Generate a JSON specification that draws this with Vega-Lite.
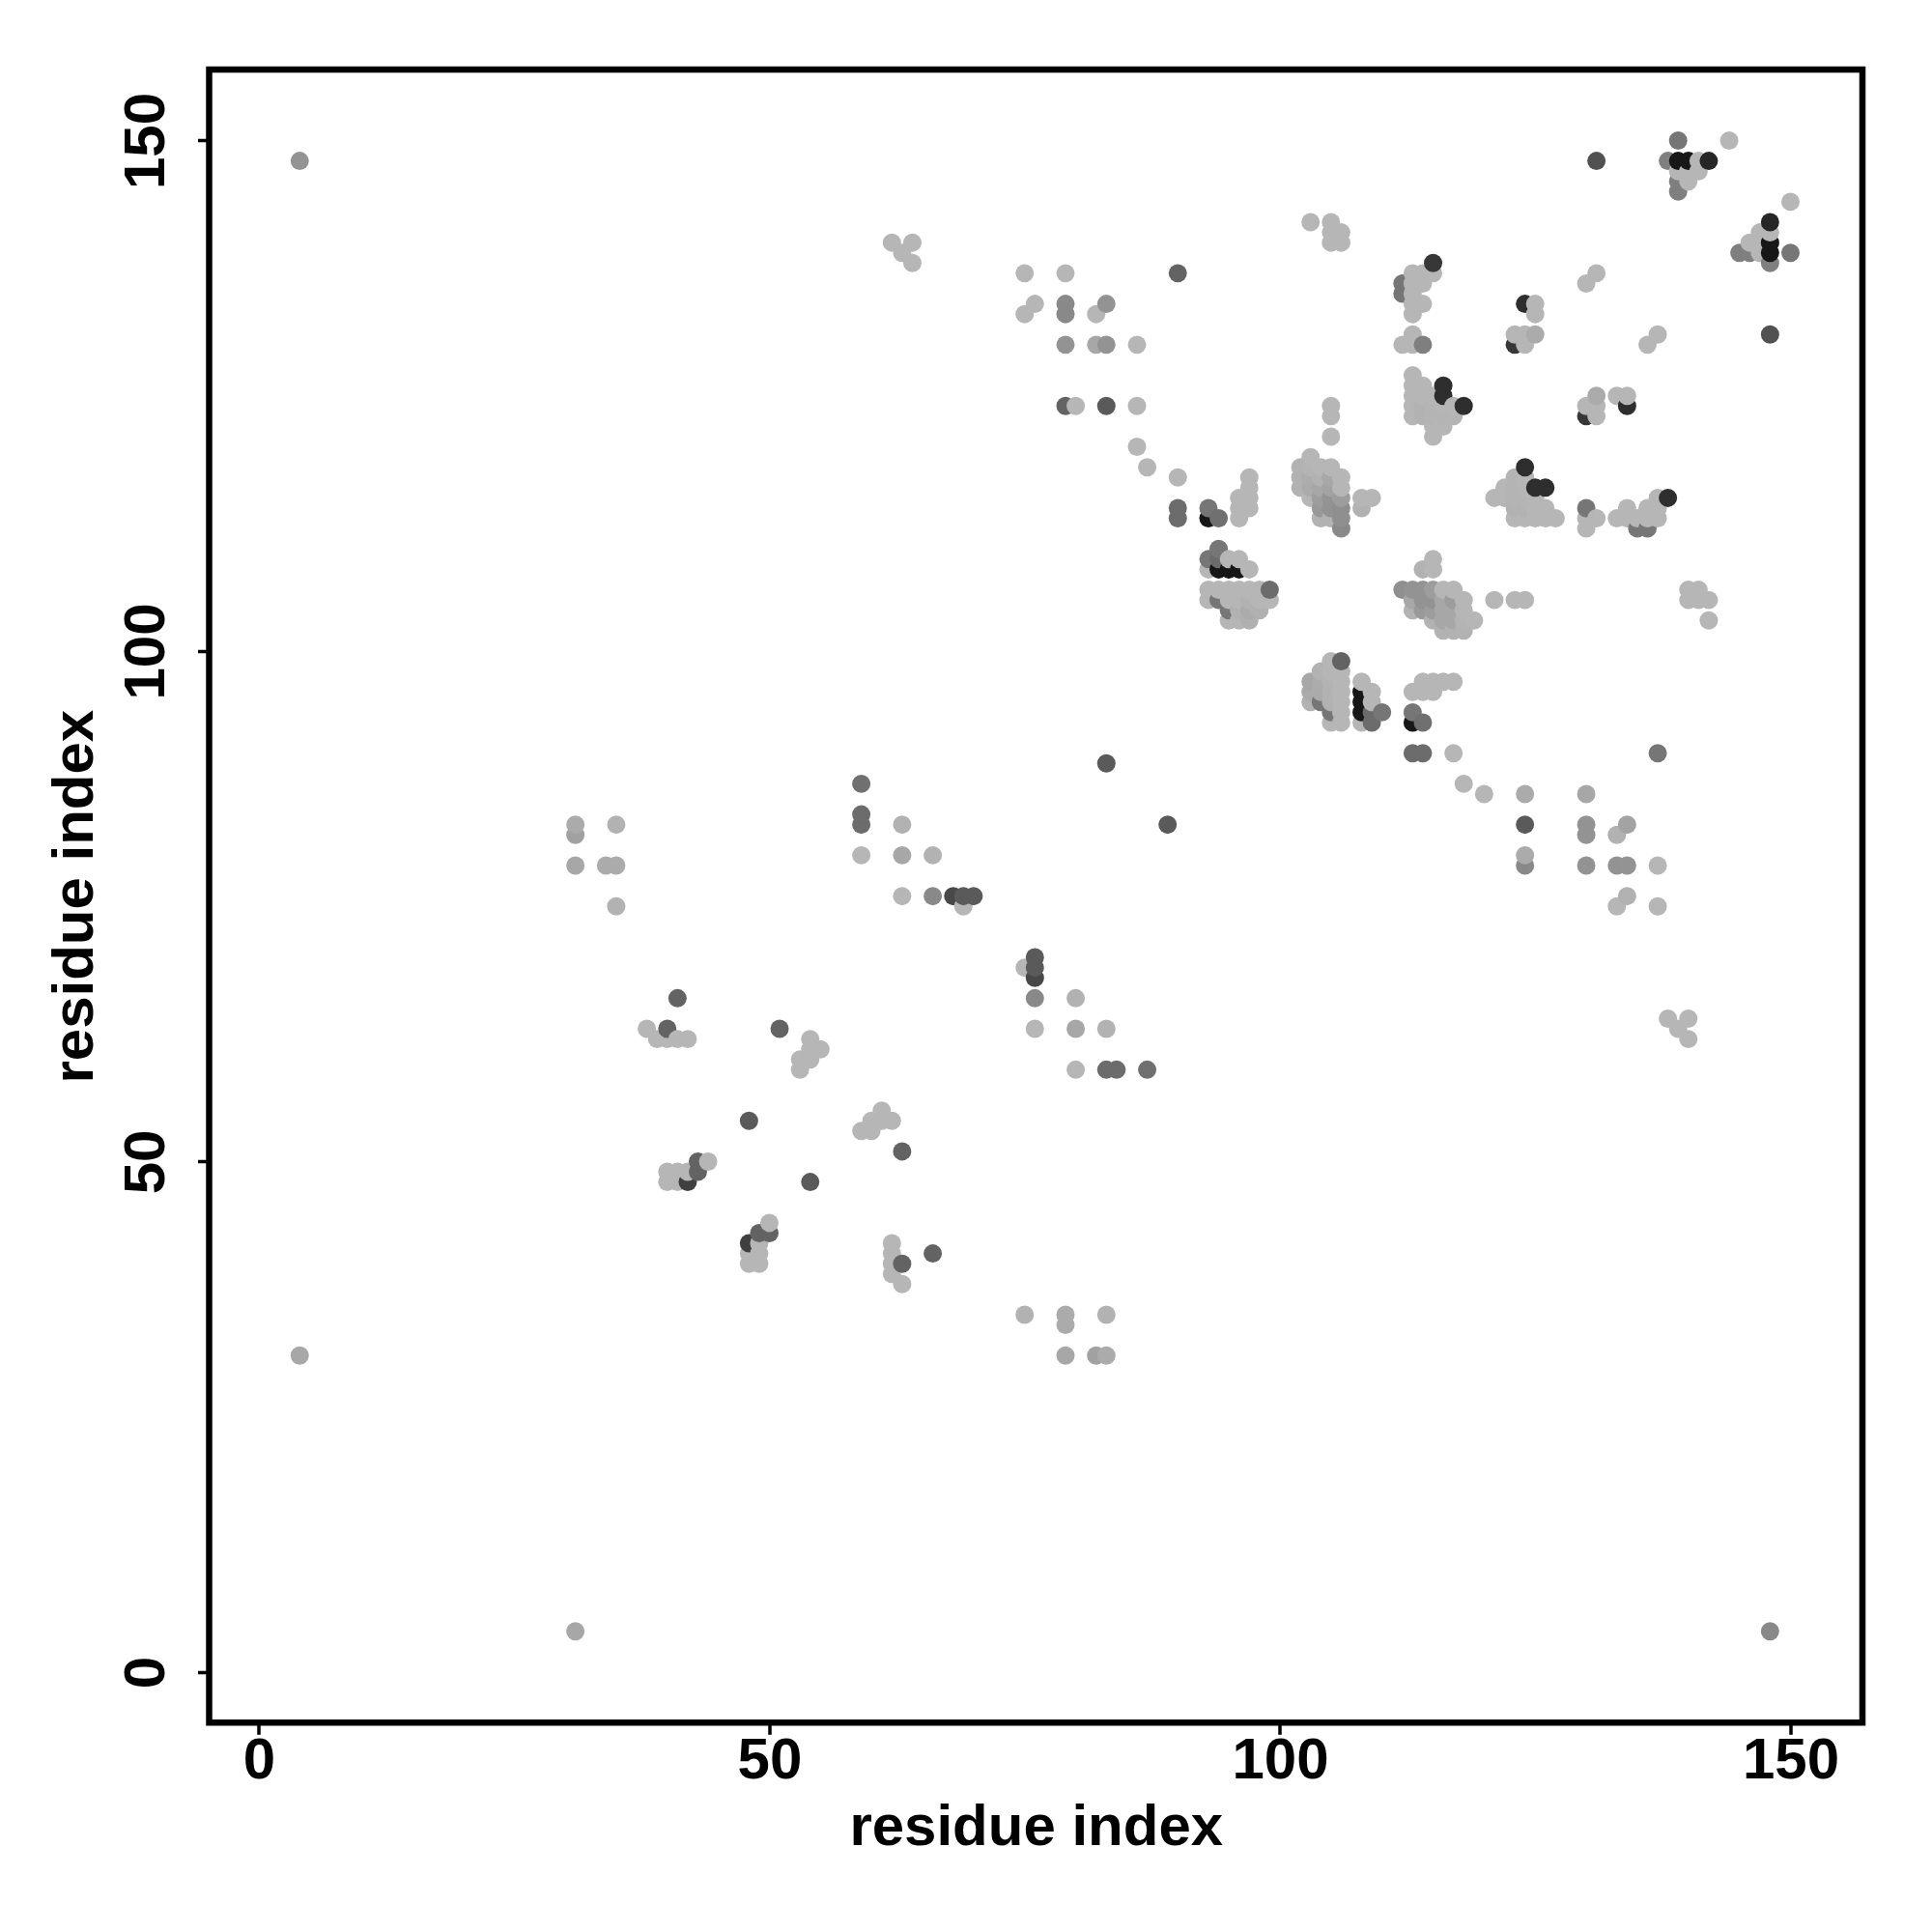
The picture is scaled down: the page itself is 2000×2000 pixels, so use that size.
{"$schema":"https://vega.github.io/schema/vega-lite/v6.json","autosize":{"type":"none"},"padding":{"left":216.5,"top":72,"right":71,"bottom":216},"width":1711.5,"height":1711.3,"background":"white","view":{"stroke":"black","strokeWidth":6.5,"fill":"white"},"data":{"values":[
{"i":4,"j":31,"w":0.1},{"i":4,"j":148,"w":0.2},
{"i":31,"j":4,"w":0.1},{"i":31,"j":79,"w":0.1},{"i":31,"j":82,"w":0.13},{"i":31,"j":83,"w":0.08},
{"i":34,"j":79,"w":0.08},
{"i":35,"j":75,"w":0.05},{"i":35,"j":79,"w":0.08},{"i":35,"j":83,"w":0.05},
{"i":38,"j":63,"w":0.03},{"i":39,"j":62,"w":0.03},
{"i":40,"j":48,"w":0.03},{"i":40,"j":49,"w":0.03},{"i":40,"j":62,"w":0.03},{"i":40,"j":63,"w":0.45},
{"i":41,"j":48,"w":0.03},{"i":41,"j":49,"w":0.03},{"i":41,"j":62,"w":0.03},{"i":41,"j":66,"w":0.45},
{"i":42,"j":48,"w":0.65},{"i":42,"j":49,"w":0.03},{"i":42,"j":62,"w":0.03},
{"i":43,"j":49,"w":0.45},{"i":43,"j":50,"w":0.45},{"i":44,"j":50,"w":0.03},
{"i":48,"j":40,"w":0.03},{"i":48,"j":41,"w":0.03},{"i":48,"j":42,"w":0.65},{"i":48,"j":54,"w":0.5},
{"i":49,"j":40,"w":0.03},{"i":49,"j":41,"w":0.03},{"i":49,"j":42,"w":0.03},{"i":49,"j":43,"w":0.45},
{"i":50,"j":43,"w":0.45},{"i":50,"j":44,"w":0.03},
{"i":51,"j":63,"w":0.45},
{"i":53,"j":59,"w":0.03},{"i":53,"j":60,"w":0.03},
{"i":54,"j":48,"w":0.5},{"i":54,"j":60,"w":0.03},{"i":54,"j":61,"w":0.03},{"i":54,"j":62,"w":0.03},
{"i":55,"j":61,"w":0.03},
{"i":59,"j":53,"w":0.03},{"i":59,"j":80,"w":0.03},{"i":59,"j":83,"w":0.4},{"i":59,"j":84,"w":0.4},{"i":59,"j":87,"w":0.38},
{"i":60,"j":53,"w":0.03},{"i":60,"j":54,"w":0.03},
{"i":61,"j":54,"w":0.03},{"i":61,"j":55,"w":0.03},
{"i":62,"j":39,"w":0.03},{"i":62,"j":40,"w":0.03},{"i":62,"j":41,"w":0.03},{"i":62,"j":42,"w":0.03},{"i":62,"j":54,"w":0.03},{"i":62,"j":140,"w":0.03},
{"i":63,"j":38,"w":0.03},{"i":63,"j":40,"w":0.45},{"i":63,"j":51,"w":0.45},{"i":63,"j":76,"w":0.03},{"i":63,"j":80,"w":0.1},{"i":63,"j":83,"w":0.05},{"i":63,"j":139,"w":0.03},
{"i":64,"j":138,"w":0.03},{"i":64,"j":140,"w":0.03},
{"i":66,"j":41,"w":0.45},{"i":66,"j":76,"w":0.25},{"i":66,"j":80,"w":0.05},
{"i":68,"j":76,"w":0.6},{"i":69,"j":75,"w":0.03},{"i":69,"j":76,"w":0.5},{"i":70,"j":76,"w":0.5},
{"i":75,"j":35,"w":0.05},{"i":75,"j":69,"w":0.03},{"i":75,"j":133,"w":0.03},{"i":75,"j":137,"w":0.03},
{"i":76,"j":63,"w":0.03},{"i":76,"j":66,"w":0.25},{"i":76,"j":68,"w":0.6},{"i":76,"j":69,"w":0.5},{"i":76,"j":70,"w":0.5},{"i":76,"j":134,"w":0.03},
{"i":79,"j":31,"w":0.1},{"i":79,"j":34,"w":0.08},{"i":79,"j":35,"w":0.08},{"i":79,"j":124,"w":0.45},{"i":79,"j":130,"w":0.2},{"i":79,"j":133,"w":0.25},{"i":79,"j":134,"w":0.25},{"i":79,"j":137,"w":0.03},
{"i":80,"j":59,"w":0.03},{"i":80,"j":63,"w":0.1},{"i":80,"j":66,"w":0.05},{"i":80,"j":124,"w":0.03},
{"i":82,"j":31,"w":0.13},{"i":82,"j":130,"w":0.1},{"i":82,"j":133,"w":0.03},
{"i":83,"j":31,"w":0.08},{"i":83,"j":35,"w":0.05},{"i":83,"j":59,"w":0.4},{"i":83,"j":63,"w":0.05},{"i":83,"j":89,"w":0.5},{"i":83,"j":124,"w":0.5},{"i":83,"j":130,"w":0.2},{"i":83,"j":134,"w":0.2},
{"i":84,"j":59,"w":0.4},
{"i":86,"j":120,"w":0.03},{"i":86,"j":124,"w":0.03},{"i":86,"j":130,"w":0.03},
{"i":87,"j":59,"w":0.38},{"i":87,"j":118,"w":0.03},
{"i":89,"j":83,"w":0.5},
{"i":90,"j":113,"w":0.4},{"i":90,"j":114,"w":0.4},{"i":90,"j":117,"w":0.03},{"i":90,"j":137,"w":0.45},
{"i":93,"j":105,"w":0.03},{"i":93,"j":106,"w":0.03},{"i":93,"j":108,"w":0.03},{"i":93,"j":109,"w":0.35},{"i":93,"j":113,"w":0.9},{"i":93,"j":114,"w":0.35},
{"i":94,"j":105,"w":0.35},{"i":94,"j":106,"w":0.03},{"i":94,"j":108,"w":0.9},{"i":94,"j":109,"w":0.4},{"i":94,"j":110,"w":0.35},{"i":94,"j":113,"w":0.38},
{"i":95,"j":103,"w":0.03},{"i":95,"j":104,"w":0.35},{"i":95,"j":105,"w":0.03},{"i":95,"j":106,"w":0.03},{"i":95,"j":108,"w":0.9},{"i":95,"j":109,"w":0.03},
{"i":96,"j":103,"w":0.03},{"i":96,"j":104,"w":0.05},{"i":96,"j":105,"w":0.03},{"i":96,"j":106,"w":0.03},{"i":96,"j":108,"w":0.9},{"i":96,"j":109,"w":0.03},{"i":96,"j":113,"w":0.03},{"i":96,"j":114,"w":0.03},{"i":96,"j":115,"w":0.03},
{"i":97,"j":103,"w":0.06},{"i":97,"j":104,"w":0.08},{"i":97,"j":105,"w":0.05},{"i":97,"j":106,"w":0.03},{"i":97,"j":108,"w":0.03},{"i":97,"j":114,"w":0.03},{"i":97,"j":115,"w":0.03},{"i":97,"j":116,"w":0.03},{"i":97,"j":117,"w":0.03},
{"i":98,"j":104,"w":0.06},{"i":98,"j":105,"w":0.03},{"i":98,"j":106,"w":0.03},
{"i":99,"j":105,"w":0.03},{"i":99,"j":106,"w":0.4},
{"i":102,"j":116,"w":0.05},{"i":102,"j":117,"w":0.05},{"i":102,"j":118,"w":0.05},
{"i":103,"j":95,"w":0.05},{"i":103,"j":96,"w":0.08},{"i":103,"j":97,"w":0.1},{"i":103,"j":115,"w":0.03},{"i":103,"j":116,"w":0.08},{"i":103,"j":117,"w":0.07},{"i":103,"j":118,"w":0.04},{"i":103,"j":119,"w":0.03},{"i":103,"j":142,"w":0.03},
{"i":104,"j":95,"w":0.35},{"i":104,"j":96,"w":0.08},{"i":104,"j":97,"w":0.08},{"i":104,"j":98,"w":0.05},{"i":104,"j":113,"w":0.05},{"i":104,"j":114,"w":0.17},{"i":104,"j":115,"w":0.15},{"i":104,"j":116,"w":0.1},{"i":104,"j":117,"w":0.05},{"i":104,"j":118,"w":0.03},
{"i":105,"j":93,"w":0.03},{"i":105,"j":94,"w":0.35},{"i":105,"j":95,"w":0.05},{"i":105,"j":96,"w":0.05},{"i":105,"j":97,"w":0.05},{"i":105,"j":98,"w":0.03},{"i":105,"j":99,"w":0.03},{"i":105,"j":113,"w":0.05},{"i":105,"j":114,"w":0.2},{"i":105,"j":115,"w":0.2},{"i":105,"j":116,"w":0.12},{"i":105,"j":117,"w":0.1},{"i":105,"j":118,"w":0.03},{"i":105,"j":121,"w":0.03},{"i":105,"j":123,"w":0.03},{"i":105,"j":124,"w":0.03},{"i":105,"j":140,"w":0.03},{"i":105,"j":141,"w":0.03},{"i":105,"j":142,"w":0.03},
{"i":106,"j":93,"w":0.03},{"i":106,"j":94,"w":0.03},{"i":106,"j":95,"w":0.03},{"i":106,"j":96,"w":0.03},{"i":106,"j":97,"w":0.03},{"i":106,"j":98,"w":0.03},{"i":106,"j":99,"w":0.45},{"i":106,"j":112,"w":0.25},{"i":106,"j":113,"w":0.22},{"i":106,"j":114,"w":0.22},{"i":106,"j":115,"w":0.15},{"i":106,"j":116,"w":0.03},{"i":106,"j":117,"w":0.03},{"i":106,"j":140,"w":0.03},{"i":106,"j":141,"w":0.03},
{"i":108,"j":93,"w":0.03},{"i":108,"j":94,"w":0.9},{"i":108,"j":95,"w":0.9},{"i":108,"j":96,"w":0.9},{"i":108,"j":97,"w":0.03},{"i":108,"j":114,"w":0.05},{"i":108,"j":115,"w":0.03},
{"i":109,"j":93,"w":0.4},{"i":109,"j":94,"w":0.4},{"i":109,"j":95,"w":0.03},{"i":109,"j":96,"w":0.03},{"i":109,"j":115,"w":0.03},
{"i":110,"j":94,"w":0.35},
{"i":112,"j":106,"w":0.22},{"i":112,"j":130,"w":0.03},{"i":112,"j":135,"w":0.35},{"i":112,"j":136,"w":0.35},
{"i":113,"j":90,"w":0.4},{"i":113,"j":93,"w":0.9},{"i":113,"j":94,"w":0.35},{"i":113,"j":96,"w":0.03},{"i":113,"j":104,"w":0.05},{"i":113,"j":105,"w":0.1},{"i":113,"j":106,"w":0.2},{"i":113,"j":123,"w":0.03},{"i":113,"j":124,"w":0.03},{"i":113,"j":125,"w":0.03},{"i":113,"j":126,"w":0.03},{"i":113,"j":127,"w":0.03},{"i":113,"j":130,"w":0.03},{"i":113,"j":131,"w":0.03},{"i":113,"j":133,"w":0.03},{"i":113,"j":134,"w":0.03},{"i":113,"j":135,"w":0.03},{"i":113,"j":136,"w":0.03},{"i":113,"j":137,"w":0.03},
{"i":114,"j":90,"w":0.4},{"i":114,"j":93,"w":0.38},{"i":114,"j":96,"w":0.03},{"i":114,"j":97,"w":0.03},{"i":114,"j":104,"w":0.17},{"i":114,"j":105,"w":0.2},{"i":114,"j":106,"w":0.2},{"i":114,"j":108,"w":0.05},{"i":114,"j":123,"w":0.05},{"i":114,"j":124,"w":0.05},{"i":114,"j":125,"w":0.03},{"i":114,"j":126,"w":0.03},{"i":114,"j":130,"w":0.3},{"i":114,"j":134,"w":0.03},{"i":114,"j":136,"w":0.03},{"i":114,"j":137,"w":0.03},
{"i":115,"j":96,"w":0.03},{"i":115,"j":97,"w":0.03},{"i":115,"j":103,"w":0.05},{"i":115,"j":104,"w":0.15},{"i":115,"j":105,"w":0.2},{"i":115,"j":106,"w":0.15},{"i":115,"j":108,"w":0.03},{"i":115,"j":109,"w":0.03},{"i":115,"j":121,"w":0.03},{"i":115,"j":122,"w":0.03},{"i":115,"j":123,"w":0.04},{"i":115,"j":124,"w":0.04},{"i":115,"j":125,"w":0.03},{"i":115,"j":137,"w":0.03},{"i":115,"j":138,"w":0.7},
{"i":116,"j":97,"w":0.03},{"i":116,"j":102,"w":0.05},{"i":116,"j":103,"w":0.1},{"i":116,"j":104,"w":0.1},{"i":116,"j":105,"w":0.1},{"i":116,"j":106,"w":0.03},{"i":116,"j":122,"w":0.03},{"i":116,"j":123,"w":0.04},{"i":116,"j":124,"w":0.03},{"i":116,"j":125,"w":0.75},{"i":116,"j":126,"w":0.75},
{"i":117,"j":90,"w":0.03},{"i":117,"j":97,"w":0.03},{"i":117,"j":102,"w":0.05},{"i":117,"j":103,"w":0.1},{"i":117,"j":104,"w":0.1},{"i":117,"j":105,"w":0.15},{"i":117,"j":106,"w":0.03},{"i":117,"j":123,"w":0.04},{"i":117,"j":124,"w":0.03},
{"i":118,"j":87,"w":0.03},{"i":118,"j":102,"w":0.05},{"i":118,"j":103,"w":0.04},{"i":118,"j":104,"w":0.03},{"i":118,"j":105,"w":0.03},{"i":118,"j":124,"w":0.75},
{"i":119,"j":103,"w":0.03},{"i":120,"j":86,"w":0.03},
{"i":121,"j":105,"w":0.03},{"i":121,"j":115,"w":0.03},
{"i":122,"j":115,"w":0.03},{"i":122,"j":116,"w":0.03},
{"i":123,"j":105,"w":0.03},{"i":123,"j":113,"w":0.03},{"i":123,"j":114,"w":0.05},{"i":123,"j":115,"w":0.04},{"i":123,"j":116,"w":0.04},{"i":123,"j":117,"w":0.04},{"i":123,"j":130,"w":0.7},{"i":123,"j":131,"w":0.03},
{"i":124,"j":79,"w":0.25},{"i":124,"j":80,"w":0.08},{"i":124,"j":83,"w":0.5},{"i":124,"j":86,"w":0.08},{"i":124,"j":105,"w":0.03},{"i":124,"j":113,"w":0.03},{"i":124,"j":114,"w":0.05},{"i":124,"j":115,"w":0.04},{"i":124,"j":116,"w":0.03},{"i":124,"j":117,"w":0.03},{"i":124,"j":118,"w":0.75},{"i":124,"j":130,"w":0.03},{"i":124,"j":131,"w":0.03},{"i":124,"j":134,"w":0.75},
{"i":125,"j":113,"w":0.03},{"i":125,"j":114,"w":0.03},{"i":125,"j":115,"w":0.03},{"i":125,"j":116,"w":0.75},{"i":125,"j":131,"w":0.08},{"i":125,"j":133,"w":0.03},{"i":125,"j":134,"w":0.03},
{"i":126,"j":113,"w":0.03},{"i":126,"j":114,"w":0.03},{"i":126,"j":116,"w":0.75},
{"i":127,"j":113,"w":0.03},
{"i":130,"j":79,"w":0.2},{"i":130,"j":82,"w":0.2},{"i":130,"j":83,"w":0.2},{"i":130,"j":86,"w":0.1},{"i":130,"j":112,"w":0.03},{"i":130,"j":113,"w":0.03},{"i":130,"j":114,"w":0.35},{"i":130,"j":123,"w":0.7},{"i":130,"j":124,"w":0.03},{"i":130,"j":136,"w":0.03},
{"i":131,"j":113,"w":0.03},{"i":131,"j":123,"w":0.03},{"i":131,"j":124,"w":0.03},{"i":131,"j":125,"w":0.08},{"i":131,"j":137,"w":0.03},{"i":131,"j":148,"w":0.55},
{"i":133,"j":75,"w":0.03},{"i":133,"j":79,"w":0.2},{"i":133,"j":82,"w":0.05},{"i":133,"j":113,"w":0.03},{"i":133,"j":125,"w":0.03},
{"i":134,"j":76,"w":0.05},{"i":134,"j":79,"w":0.2},{"i":134,"j":83,"w":0.12},{"i":134,"j":113,"w":0.03},{"i":134,"j":114,"w":0.03},{"i":134,"j":124,"w":0.75},{"i":134,"j":125,"w":0.03},
{"i":135,"j":112,"w":0.35},{"i":135,"j":113,"w":0.03},
{"i":136,"j":112,"w":0.35},{"i":136,"j":113,"w":0.03},{"i":136,"j":114,"w":0.03},{"i":136,"j":130,"w":0.03},
{"i":137,"j":75,"w":0.03},{"i":137,"j":79,"w":0.03},{"i":137,"j":90,"w":0.35},{"i":137,"j":113,"w":0.03},{"i":137,"j":114,"w":0.03},{"i":137,"j":115,"w":0.03},{"i":137,"j":131,"w":0.03},
{"i":138,"j":64,"w":0.03},{"i":138,"j":115,"w":0.75},{"i":138,"j":148,"w":0.3},
{"i":139,"j":63,"w":0.03},{"i":139,"j":145,"w":0.3},{"i":139,"j":146,"w":0.3},{"i":139,"j":147,"w":0.03},{"i":139,"j":148,"w":0.9},{"i":139,"j":150,"w":0.35},
{"i":140,"j":62,"w":0.03},{"i":140,"j":64,"w":0.03},{"i":140,"j":105,"w":0.03},{"i":140,"j":106,"w":0.03},{"i":140,"j":146,"w":0.03},{"i":140,"j":147,"w":0.03},{"i":140,"j":148,"w":0.9},
{"i":141,"j":105,"w":0.03},{"i":141,"j":106,"w":0.03},{"i":141,"j":147,"w":0.03},{"i":141,"j":148,"w":0.03},
{"i":142,"j":103,"w":0.03},{"i":142,"j":105,"w":0.03},{"i":142,"j":148,"w":0.8},
{"i":144,"j":150,"w":0.03},
{"i":145,"j":139,"w":0.3},
{"i":146,"j":139,"w":0.3},{"i":146,"j":140,"w":0.03},
{"i":147,"j":139,"w":0.03},{"i":147,"j":140,"w":0.03},{"i":147,"j":141,"w":0.03},
{"i":148,"j":4,"w":0.25},{"i":148,"j":131,"w":0.55},{"i":148,"j":138,"w":0.3},{"i":148,"j":139,"w":0.9},{"i":148,"j":140,"w":0.9},{"i":148,"j":141,"w":0.03},{"i":148,"j":142,"w":0.8},
{"i":150,"j":139,"w":0.35},{"i":150,"j":144,"w":0.03}
]},
"mark":{"type":"point","shape":"circle","filled":true,"opacity":1,"size":360,"strokeWidth":0},
"encoding":{
"x":{"field":"i","type":"quantitative","scale":{"domain":[-4.87,157.05],"nice":false,"zero":false},"axis":{"values":[0,50,100,150],"grid":false,"domain":false,"title":"residue index","tickColor":"black","tickSize":12,"tickWidth":3.5,"labelFont":"Liberation Sans","labelFontWeight":"bold","labelFontSize":60,"labelColor":"black","labelPadding":-2,"labelFlush":false,"labelOverlap":false,"titleFont":"Liberation Sans","titleFontWeight":"bold","titleFontSize":60,"titleColor":"black","titlePadding":10}},
"y":{"field":"j","type":"quantitative","scale":{"domain":[-4.95,156.95],"nice":false,"zero":false},"axis":{"values":[0,50,100,150],"grid":false,"domain":false,"title":"residue index","tickColor":"black","tickSize":12,"tickWidth":3.5,"labelFont":"Liberation Sans","labelFontWeight":"bold","labelFontSize":60,"labelColor":"black","labelAngle":270,"labelAlign":"center","labelBaseline":"bottom","labelPadding":22,"labelFlush":false,"labelOverlap":false,"titleFont":"Liberation Sans","titleFontWeight":"bold","titleFontSize":60,"titleColor":"black","titlePadding":13}},
"color":{"field":"w","type":"quantitative","scale":{"domain":[0,1],"range":["#bcbcbc","#000000"]},"legend":null}
}}
